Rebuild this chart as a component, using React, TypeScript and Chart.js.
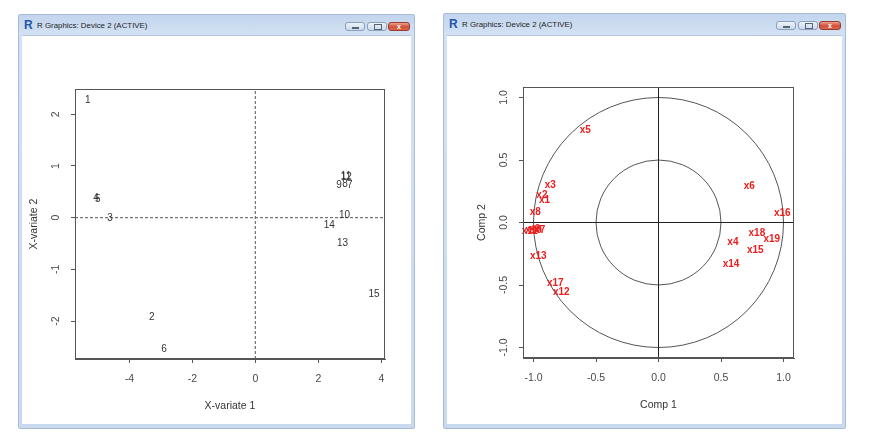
import React, { useEffect, useRef } from 'react';
import { Chart, registerables } from 'chart.js';

Chart.register(...registerables);

const windowTitle = 'R Graphics: Device 2 (ACTIVE)';

// ---------- Left panel: sample plot ----------
const scoreLabels = ['1', '2', '3', '4', '5', '6', '7', '8', '9', '10', '11', '12', '13', '14', '15'];
const scoreX = [-5.32, -3.29, -4.61, -5.06, -5.0, -2.9, 3.0, 2.85, 2.66, 2.83, 2.88, 2.89, 2.77, 2.35, 3.77];
const scoreY = [2.27, -1.92, -0.01, 0.37, 0.36, -2.55, 0.63, 0.65, 0.63, 0.05, 0.8, 0.78, -0.5, -0.14, -1.48];
const scoreXTicks = [-4, -2, 0, 2, 4];
const scoreYTicks = [-2, -1, 0, 1, 2];
const scoreXRange = [-5.724, 4.117];
const scoreYRange = [-2.733, 2.489];
const scoreXTitle = 'X-variate 1';
const scoreYTitle = 'X-variate 2';

// ---------- Right panel: correlation circle ----------
const varLabels = ['x1', 'x2', 'x3', 'x4', 'x5', 'x6', 'x7', 'x8', 'x9', 'x10', 'x11', 'x12', 'x13', 'x14', 'x15', 'x16', 'x17', 'x18', 'x19'];
const varX = [-0.912, -0.933, -0.866, 0.595, -0.586, 0.726, -0.95, -0.986, -0.99, -1.0, -1.03, -0.778, -0.962, 0.58, 0.774, 0.99, -0.826, 0.787, 0.906];
const varY = [0.18, 0.22, 0.3, -0.16, 0.74, 0.29, -0.06, 0.085, -0.05, -0.06, -0.07, -0.56, -0.27, -0.335, -0.22, 0.075, -0.485, -0.085, -0.135];
const corTicks = [-1, -0.5, 0, 0.5, 1];
const corRange = [-1.084, 1.084];
const circleRadii = [1, 0.5];
const corXTitle = 'Comp 1';
const corYTitle = 'Comp 2';

const FONT = '"Liberation Sans", Arial, sans-serif';

const rPlugin = {
  id: 'rPlot',
  beforeDatasetsDraw(chart: any, _args: any, opts: any) {
    const { ctx } = chart;
    const xs = chart.scales.x;
    const ys = chart.scales.y;
    if (opts.circles) {
      ctx.save();
      ctx.strokeStyle = opts.circleColor;
      ctx.lineWidth = 1;
      const cx = xs.getPixelForValue(0);
      const cy = ys.getPixelForValue(0);
      for (const r of opts.circles) {
        const rx = xs.getPixelForValue(r) - cx;
        const ry = cy - ys.getPixelForValue(r);
        ctx.beginPath();
        ctx.ellipse(cx, cy, rx, ry, 0, 0, Math.PI * 2);
        ctx.stroke();
      }
      ctx.restore();
    }
  },
  afterDatasetsDraw(chart: any, _args: any, opts: any) {
    const { ctx } = chart;
    ctx.save();
    chart.data.datasets.forEach((ds: any, i: number) => {
      if (!ds.pointLabels) return;
      const meta = chart.getDatasetMeta(i);
      ctx.font = opts.labelFont;
      ctx.fillStyle = opts.labelColor;
      ctx.textAlign = 'center';
      ctx.textBaseline = 'middle';
      meta.data.forEach((el: any, j: number) => {
        ctx.fillText(ds.pointLabels[j], el.x, el.y);
      });
    });
    ctx.restore();
  },
  afterDraw(chart: any, _args: any, opts: any) {
    const { ctx, chartArea } = chart;
    const xs = chart.scales.x;
    const ys = chart.scales.y;
    ctx.save();
    // box
    ctx.strokeStyle = '#555';
    ctx.lineWidth = 1;
    ctx.strokeRect(Math.round(chartArea.left) + 0.5, Math.round(chartArea.top) + 0.5,
      Math.round(chartArea.right - chartArea.left) - 1, Math.round(chartArea.bottom - chartArea.top) - 1);
    // tick labels
    ctx.font = '10.5px ' + FONT;
    ctx.fillStyle = '#4a4a4a';
    ctx.textAlign = 'center';
    ctx.textBaseline = 'middle';
    const fmt = opts.format as (v: number) => string;
    xs.ticks.forEach((t: any) => {
      ctx.fillText(fmt(t.value), xs.getPixelForValue(t.value), chartArea.bottom + 20);
    });
    ys.ticks.forEach((t: any) => {
      ctx.save();
      ctx.translate(chartArea.left - 19, ys.getPixelForValue(t.value));
      ctx.rotate(-Math.PI / 2);
      ctx.fillText(fmt(t.value), 0, 0);
      ctx.restore();
    });
    // titles
    ctx.font = '10.5px ' + FONT;
    ctx.fillStyle = '#333';
    ctx.fillText(opts.xTitle, (chartArea.left + chartArea.right) / 2, chartArea.bottom + 47);
    ctx.save();
    ctx.translate(chartArea.left - 41, (chartArea.top + chartArea.bottom) / 2);
    ctx.rotate(-Math.PI / 2);
    ctx.fillText(opts.yTitle, 0, 0);
    ctx.restore();
    ctx.restore();
  },
};

function axis(range: number[], ticks: number[], size: number, horizontal: boolean) {
  return {
    type: 'linear',
    min: range[0],
    max: range[1],
    afterBuildTicks: (s: any) => {
      s.ticks = ticks.map((v) => ({ value: v }));
    },
    afterFit: (s: any) => {
      if (horizontal) s.height = size;
      else s.width = size;
    },
    ticks: { display: false },
    grid: { drawOnChartArea: false, drawTicks: true, tickLength: 4, color: '#555', lineWidth: 1 },
    border: { display: true, color: '#555', width: 1 },
  };
}

function ChartCanvas({ width, height, build }: { width: number; height: number; build: () => any }) {
  const ref = useRef<HTMLCanvasElement | null>(null);
  useEffect(() => {
    if (!ref.current) return;
    const chart = new Chart(ref.current, build());
    return () => chart.destroy();
  }, []);
  return (
    <canvas ref={ref} width={width} height={height}
      style={{ position: 'absolute', left: 0, top: 0, width, height, display: 'block' }} />
  );
}

function leftConfig() {
  const pts = scoreX.map((x, i) => ({ x, y: scoreY[i] }));
  return {
    type: 'scatter',
    data: {
      datasets: [
        {
          data: [{ x: scoreXRange[0], y: 0 }, { x: scoreXRange[1], y: 0 }],
          showLine: true, borderColor: '#555', borderWidth: 1, borderDash: [3, 2], pointRadius: 0,
        },
        {
          data: [{ x: 0, y: scoreYRange[0] }, { x: 0, y: scoreYRange[1] }],
          showLine: true, borderColor: '#555', borderWidth: 1, borderDash: [3, 2], pointRadius: 0,
        },
        { data: pts, pointRadius: 0, pointLabels: scoreLabels },
      ],
    },
    options: {
      animation: false,
      responsive: false,
      devicePixelRatio: 1,
      layout: { padding: { left: 0, top: 53, right: 26, bottom: 0 } },
      scales: {
        x: { ...axis(scoreXRange, scoreXTicks, 66, true), position: 'bottom' },
        y: { ...axis(scoreYRange, scoreYTicks, 53, false), position: 'left' },
      },
      plugins: {
        legend: { display: false },
        tooltip: { enabled: false },
        rPlot: {
          labelFont: '10px ' + FONT,
          labelColor: '#333',
          format: (v: number) => String(v),
          xTitle: scoreXTitle,
          yTitle: scoreYTitle,
        },
      },
    },
    plugins: [rPlugin],
  };
}

function rightConfig() {
  const pts = varX.map((x, i) => ({ x, y: varY[i] }));
  return {
    type: 'scatter',
    data: {
      datasets: [
        {
          data: [{ x: corRange[0], y: 0 }, { x: corRange[1], y: 0 }],
          showLine: true, borderColor: '#222', borderWidth: 1, pointRadius: 0,
        },
        {
          data: [{ x: 0, y: corRange[0] }, { x: 0, y: corRange[1] }],
          showLine: true, borderColor: '#222', borderWidth: 1, pointRadius: 0,
        },
        { data: pts, pointRadius: 0, pointLabels: varLabels },
      ],
    },
    options: {
      animation: false,
      responsive: false,
      devicePixelRatio: 1,
      layout: { padding: { left: 0, top: 51, right: 48, bottom: 0 } },
      scales: {
        x: { ...axis(corRange, corTicks, 67, true), position: 'bottom' },
        y: { ...axis(corRange, corTicks, 76, false), position: 'left' },
      },
      plugins: {
        legend: { display: false },
        tooltip: { enabled: false },
        rPlot: {
          circles: circleRadii,
          circleColor: '#555',
          labelFont: 'bold 10px ' + FONT,
          labelColor: '#ee1c1c',
          format: (v: number) => v.toFixed(1),
          xTitle: corXTitle,
          yTitle: corYTitle,
        },
      },
    },
    plugins: [rPlugin],
  };
}

function RWindow({ x, y, w, h, titleTop, children }: any) {
  const btnBase: any = {
    position: 'absolute', top: 7, height: 9, boxSizing: 'border-box',
    border: '1px solid #8aa0bd', borderRadius: 3,
    background: 'linear-gradient(#eef3f9, #cbd9ea)',
  };
  return (
    <div style={{
      position: 'absolute', left: x, top: y, width: w, height: h, boxSizing: 'border-box',
      background: 'linear-gradient(#c2d5ed, #d3e1f3 20px, #c9daef)',
      border: '1px solid #a7bcd6', borderRadius: 2,
    }}>
      <div style={{
        position: 'absolute', left: 5, top: 4, width: 10, height: 12,
        font: 'bold 12px ' + FONT, color: '#2456a8', lineHeight: '12px',
      }}>R</div>
      <div style={{
        position: 'absolute', left: 18, top: 6, fontFamily: FONT, fontSize: 7.9,
        color: '#1e1e1e', lineHeight: '9px', whiteSpace: 'nowrap',
      }}>{windowTitle}</div>
      <div style={{ ...btnBase, right: 49, width: 20 }}>
        <div style={{ position: 'absolute', left: 6, top: 4, width: 7, height: 2, background: '#55657a' }} />
      </div>
      <div style={{ ...btnBase, right: 27, width: 20 }}>
        <div style={{ position: 'absolute', left: 6, top: 1, width: 6, height: 4, border: '1px solid #55657a' }} />
      </div>
      <div style={{
        ...btnBase, right: 4, width: 22, border: '1px solid #9a3b2c',
        background: 'linear-gradient(#eba08e, #d0503a 55%, #d9694e)',
        color: '#fff', fontSize: 7, fontWeight: 'bold', fontFamily: FONT, textAlign: 'center', lineHeight: '7px',
      }}>x</div>
      <div style={{
        position: 'absolute', left: 3, top: titleTop, right: 3, bottom: 4, background: '#fff',
        borderTop: '1px solid #b8c8dc',
      }}>
        {children}
      </div>
    </div>
  );
}

export default function App() {
  return (
    <div style={{ position: 'absolute', left: 0, top: 0, width: 884, height: 435, background: '#fff', overflow: 'hidden' }}>
      <RWindow x={18} y={14} w={397} h={415} titleTop={20}>
        <ChartCanvas width={389} height={389} build={leftConfig} />
      </RWindow>
      <RWindow x={443} y={13} w={403} h={416} titleTop={21}>
        <ChartCanvas width={395} height={389} build={rightConfig} />
      </RWindow>
    </div>
  );
}
